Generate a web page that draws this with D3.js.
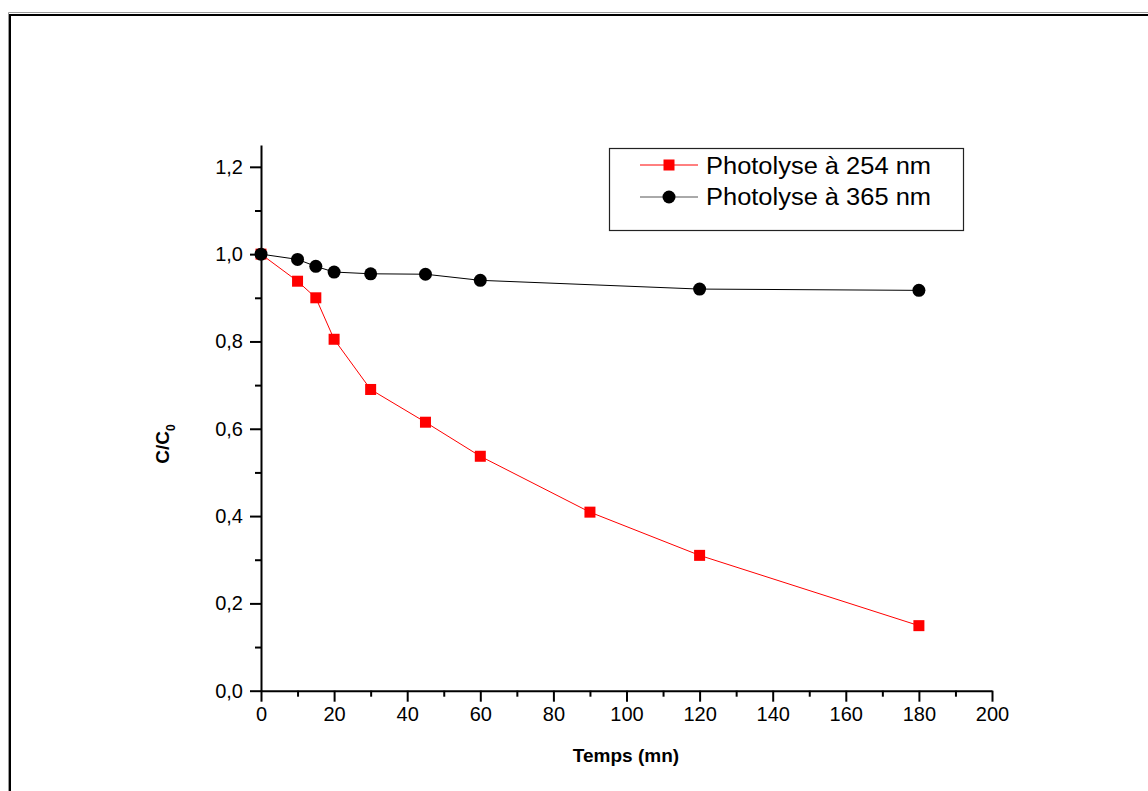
<!DOCTYPE html>
<html>
<head>
<meta charset="utf-8">
<script src="https://cdn.jsdelivr.net/npm/d3@7"></script>
<style>
  html, body { margin: 0; padding: 0; background: #ffffff; }
  svg { display: block; font-family: "Liberation Sans", Arial, sans-serif; }
</style>
</head>
<body>
<svg id="chart" width="1148" height="791"></svg>
<script>
// ---- data ----
const times254 = [0, 10, 15, 20, 30, 45, 60, 90, 120, 180];
const values254 = [1.0, 0.938, 0.900, 0.805, 0.690, 0.615, 0.537, 0.409, 0.310, 0.149];
const times365 = [0, 10, 15, 20, 30, 45, 60, 120, 180];
const values365 = [1.0, 0.988, 0.972, 0.959, 0.955, 0.954, 0.940, 0.920, 0.917];
const seriesNames = ["Photolyse à 254 nm", "Photolyse à 365 nm"];
const xMajorTicks = [0, 20, 40, 60, 80, 100, 120, 140, 160, 180, 200];
const xMinorTicks = [10, 30, 50, 70, 90, 110, 130, 150, 170, 190];
const yMajorTicks = [0, 0.2, 0.4, 0.6, 0.8, 1.0, 1.2];
const yMinorTicks = [0.1, 0.3, 0.5, 0.7, 0.9, 1.1];
const xTitle = "Temps (mn)";

const svg = d3.select("#chart");

// outer frame (double line)
svg.append("path").attr("d", "M8.5,1000 V12.5 H1200").attr("fill", "none").attr("stroke", "#9a9a9a").attr("stroke-width", 1);
svg.append("path").attr("d", "M10,1000 V15 H1200").attr("fill", "none").attr("stroke", "#000").attr("stroke-width", 2);

const x = d3.scaleLinear().domain([0, 200]).range([261, 992]);
const y = d3.scaleLinear().domain([0, 1.25]).range([690.7, 145]);

const fmt = d => d3.format(".1f")(d).replace(".", ",");

// x axis
const gx = svg.append("g").attr("transform", `translate(0,${y(0)})`);
gx.call(d3.axisBottom(x).tickValues(xMajorTicks).tickSize(11).tickSizeOuter(0).tickPadding(5).tickFormat(d3.format("d")));
gx.append("g").call(d3.axisBottom(x).tickValues(xMinorTicks).tickSize(6).tickSizeOuter(0).tickFormat(""))
  .select(".domain").remove();
gx.selectAll("line").attr("stroke", "#000").attr("stroke-width", 2);
gx.selectAll(".domain").attr("stroke", "#000").attr("stroke-width", 2);
gx.selectAll("text").attr("font-size", 20).attr("fill", "#000").attr("font-family", "Liberation Sans, Arial, sans-serif");

// y axis
const gy = svg.append("g").attr("transform", `translate(${x(0)},0)`);
gy.call(d3.axisLeft(y).tickValues(yMajorTicks).tickSize(11).tickSizeOuter(0).tickPadding(7).tickFormat(fmt));
gy.append("g").call(d3.axisLeft(y).tickValues(yMinorTicks).tickSize(6).tickSizeOuter(0).tickFormat(""))
  .select(".domain").remove();
gy.selectAll("line").attr("stroke", "#000").attr("stroke-width", 2);
gy.selectAll(".domain").attr("stroke", "#000").attr("stroke-width", 2);
gy.selectAll("text").attr("font-size", 20).attr("fill", "#000").attr("font-family", "Liberation Sans, Arial, sans-serif");

// axis titles
svg.append("text").attr("x", 626).attr("y", 762).attr("text-anchor", "middle")
  .attr("font-size", 19).attr("font-weight", "bold").text(xTitle);

const yt = svg.append("text").attr("transform", "translate(169,444) rotate(-90)")
  .attr("text-anchor", "middle").attr("font-size", 19).attr("font-weight", "bold");
yt.append("tspan").text("C/C");
yt.append("tspan").attr("font-size", 12).attr("dy", 6).text("0");

// series
const d254 = times254.map((t, i) => [t, values254[i]]);
const d365 = times365.map((t, i) => [t, values365[i]]);
const line = d3.line().x(d => x(d[0])).y(d => y(d[1]));

svg.append("path").datum(d254).attr("d", line).attr("fill", "none").attr("stroke", "#ff0000").attr("stroke-width", 1);
svg.append("g").selectAll("rect").data(d254).join("rect")
  .attr("x", d => x(d[0]) - 5.5).attr("y", d => y(d[1]) - 5.5)
  .attr("width", 11).attr("height", 11).attr("fill", "#ff0000");

svg.append("path").datum(d365).attr("d", line).attr("fill", "none").attr("stroke", "#000").attr("stroke-width", 1);
svg.append("g").selectAll("circle").data(d365).join("circle")
  .attr("cx", d => x(d[0])).attr("cy", d => y(d[1])).attr("r", 6.5).attr("fill", "#000");

// legend
const lg = svg.append("g");
lg.append("rect").attr("x", 609.5).attr("y", 148.5).attr("width", 354).attr("height", 82)
  .attr("fill", "#fff").attr("stroke", "#222").attr("stroke-width", 1.2);
// row 1
lg.append("line").attr("x1", 640).attr("x2", 698).attr("y1", 165).attr("y2", 165).attr("stroke", "#ff0000").attr("stroke-width", 1);
lg.append("rect").attr("x", 669 - 5.5).attr("y", 165 - 5.5).attr("width", 11).attr("height", 11).attr("fill", "#ff0000");
lg.append("text").attr("x", 706).attr("y", 174).attr("font-size", 23)
  .attr("textLength", 225).attr("lengthAdjust", "spacingAndGlyphs").text(seriesNames[0]);
// row 2
lg.append("line").attr("x1", 640).attr("x2", 698).attr("y1", 197).attr("y2", 197).attr("stroke", "#555").attr("stroke-width", 1);
lg.append("circle").attr("cx", 669).attr("cy", 197).attr("r", 6.5).attr("fill", "#000");
lg.append("text").attr("x", 706).attr("y", 205).attr("font-size", 23)
  .attr("textLength", 225).attr("lengthAdjust", "spacingAndGlyphs").text(seriesNames[1]);
</script>
</body>
</html>
